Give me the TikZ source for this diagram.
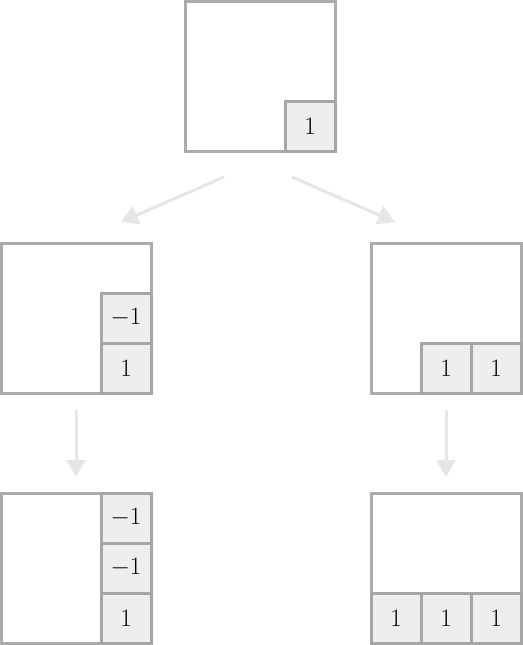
\documentclass[tikz,border=0pt]{standalone}
\usetikzlibrary{arrows.meta}
\definecolor{boxline}{HTML}{ABABAB}
\definecolor{cellline}{HTML}{A6A6A6}
\definecolor{cellfill}{HTML}{EEEEEE}
\definecolor{arrowcol}{HTML}{E6E6E6}
\tikzset{
  frame/.style={draw=boxline, line width=3pt, fill=white, minimum width=150pt, minimum height=150pt, inner sep=0pt, outer sep=0pt},
  cell/.style={draw=cellline, line width=3pt, fill=cellfill, minimum width=50pt, minimum height=50pt, inner sep=0pt, outer sep=0pt, font=\fontsize{25}{28}\selectfont},
  flow/.style={draw=arrowcol, line width=3pt, -{Triangle[length=17pt, width=19pt]}}
}
\begin{document}
\begin{tikzpicture}[x=1pt, y=-1pt]
\useasboundingbox (0,0) rectangle (522,645);
% top
\node[frame] (T) at (260,76) {};
\node[cell] (T1) at (310,126) {1};
% middle left
\node[frame] (ML) at (76,318) {};
\node[cell] (ML1) at (126,318) {$-1$};
\node[cell] (ML2) at (126,368) {1};
% middle right
\node[frame] (MR) at (446,318) {};
\node[cell] (MR1) at (446,368) {1};
\node[cell] (MR2) at (496,368) {1};
% bottom left
\node[frame] (BL) at (76,568) {};
\node[cell] (BL1) at (126,518) {$-1$};
\node[cell] (BL2) at (126,568) {$-1$};
\node[cell] (BL3) at (126,618) {1};
% bottom right
\node[frame] (BR) at (446,568) {};
\node[cell] (BR1) at (396,618) {1};
\node[cell] (BR2) at (446,618) {1};
\node[cell] (BR3) at (496,618) {1};
% arrows
\coordinate (a1s) at (224,177);
\coordinate (a1e) at (121,222);
\coordinate (a2s) at (292,177);
\coordinate (a2e) at (395,222);
\coordinate (a3s) at (76,410);
\coordinate (a3e) at (76,477);
\coordinate (a4s) at (446,410);
\coordinate (a4e) at (446,477);
\draw[flow] (a1s) -- (a1e);
\draw[flow] (a2s) -- (a2e);
\draw[flow] (a3s) -- (a3e);
\draw[flow] (a4s) -- (a4e);
\end{tikzpicture}
\end{document}
